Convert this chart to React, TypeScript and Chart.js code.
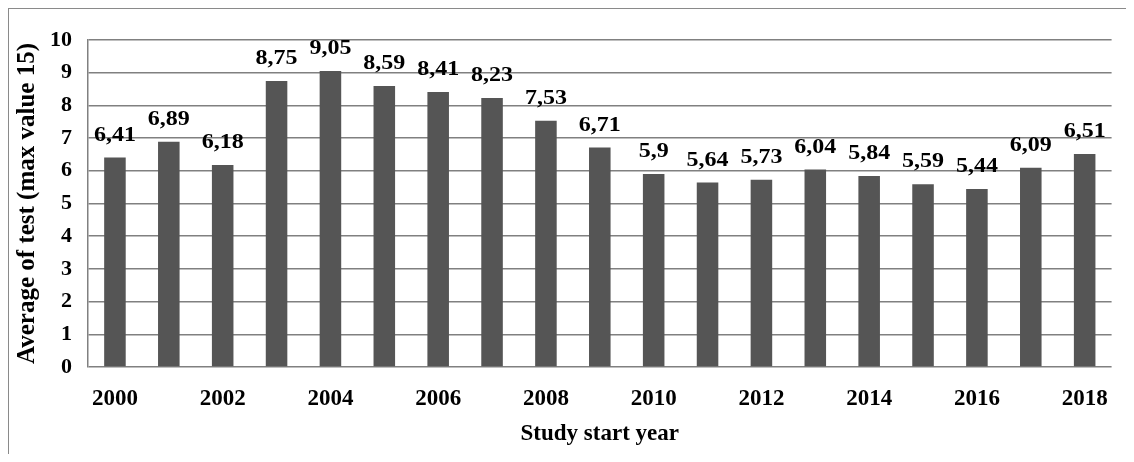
import React, { useEffect, useRef } from "react";
import { Chart, registerables } from "chart.js";

Chart.register(...registerables);

const years: string[] = [
  "2000", "2001", "2002", "2003", "2004", "2005", "2006", "2007", "2008", "2009",
  "2010", "2011", "2012", "2013", "2014", "2015", "2016", "2017", "2018",
];
const averages: number[] = [
  6.41, 6.89, 6.18, 8.75, 9.05, 8.59, 8.41, 8.23, 7.53, 6.71,
  5.9, 5.64, 5.73, 6.04, 5.84, 5.59, 5.44, 6.09, 6.51,
];
const yTitle = "Average of test (max value 15)";
const xTitle = "Study start year";

const FONT = "'Liberation Serif', 'Times New Roman', serif";

const labelPlugin = {
  id: "barValueLabels",
  afterDatasetsDraw(chart: any) {
    const ctx = chart.ctx;
    const meta = chart.getDatasetMeta(0);
    meta.data.forEach((bar: any, i: number) => {
      const txt = String(averages[i]).replace(".", ",");
      ctx.save();
      ctx.font = `bold 20px ${FONT}`;
      ctx.fillStyle = "#000";
      ctx.textAlign = "center";
      ctx.textBaseline = "middle";
      ctx.translate(bar.x, bar.y - 22);
      ctx.scale(1.2, 1);
      ctx.fillText(txt, 0, 0);
      ctx.restore();
    });
  },
};

export default function App() {
  const ref = useRef<HTMLCanvasElement>(null);
  useEffect(() => {
    if (!ref.current) return;
    const chart = new Chart(ref.current, {
      type: "bar",
      data: {
        labels: years,
        datasets: [
          {
            data: averages,
            backgroundColor: "#555555",
            borderWidth: 0,
            barPercentage: 0.4,
            categoryPercentage: 1,
          },
        ],
      },
      options: {
        responsive: false,
        animation: false,
        layout: { padding: { left: 0, top: 31, right: 13, bottom: 0 } },
        plugins: {
          legend: { display: false },
          tooltip: { enabled: false },
        },
        scales: {
          x: {
            grid: { display: false, drawTicks: false },
            border: { display: false },
            ticks: {
              autoSkip: false,
              maxRotation: 0,
              padding: 18,
              color: "#000",
              font: { family: FONT, size: 23, weight: "bold" },
              callback: (_v: any, i: number) => (i % 2 === 0 ? years[i] : ""),
            },
            title: {
              display: true,
              text: xTitle,
              color: "#000",
              font: { family: FONT, size: 23, weight: "bold" },
              padding: { top: 0, bottom: 6 },
            },
            afterFit: (s: any) => {
              s.height = 87;
            },
          },
          y: {
            min: 0,
            max: 10,
            grid: { color: "#808080", lineWidth: 1.5, drawTicks: false },
            border: { display: true, color: "#808080", width: 1.5 },
            ticks: {
              stepSize: 1,
              padding: 16,
              color: "#000",
              font: { family: FONT, size: 22, weight: "bold" },
            },
            title: {
              display: true,
              text: yTitle,
              color: "#000",
              font: { family: FONT, size: 25, weight: "bold" },
              padding: { top: 4, bottom: 0 },
            },
            afterFit: (s: any) => {
              s.width = 79;
            },
          },
        },
      },
      plugins: [labelPlugin],
    });
    return () => chart.destroy();
  }, []);
  return (
    <div
      style={{
        borderTop: "1px solid #8a8a8a",
        borderLeft: "1px solid #8a8a8a",
        width: 1117,
        height: 445,
        background: "#fff",
      }}
    >
      <canvas ref={ref} width={1117} height={445} style={{ display: "block" }} />
    </div>
  );
}
